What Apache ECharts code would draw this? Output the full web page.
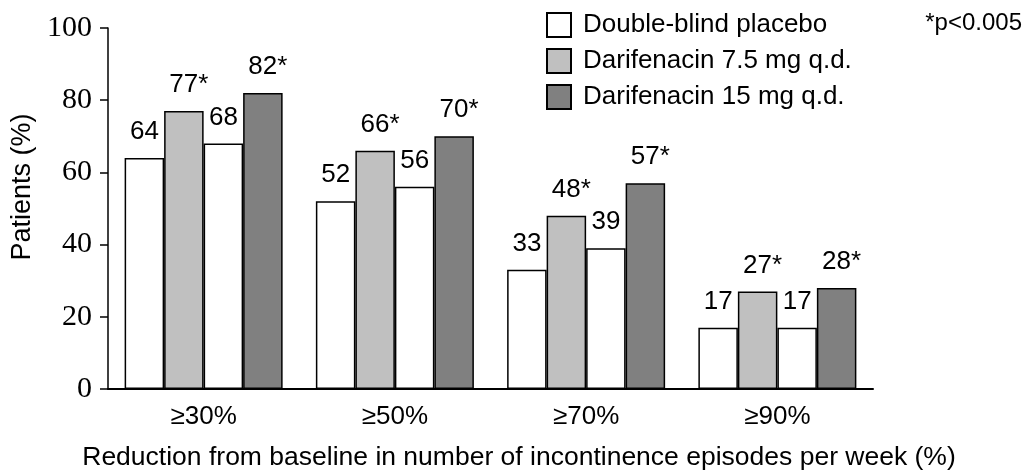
<!DOCTYPE html>
<html>
<head>
<meta charset="utf-8">
<script src="https://cdn.jsdelivr.net/npm/echarts@6/dist/echarts.min.js"></script>
<style>
html,body{margin:0;padding:0;background:#fff;}
#chart{width:1029px;height:470px;}
</style>
</head>
<body>
<div id="chart"></div>
<script>
const categories = ['≥30%', '≥50%', '≥70%', '≥90%'];
const placeboA = [64, 52, 33, 17];
const dari75 = [77, 66, 48, 27];
const placeboB = [68, 56, 39, 17];
const dari15 = [82, 70, 57, 28];
const yTicks = [0, 20, 40, 60, 80, 100];
const legendNames = ['Double-blind placebo', 'Darifenacin 7.5 mg q.d.', 'Darifenacin 15 mg q.d.'];
const sigNote = '*p<0.005';
const xTitle = 'Reduction from baseline in number of incontinence episodes per week (%)';
const yTitle = 'Patients (%)';

const SANS = '"Liberation Sans", Arial, sans-serif';
const SERIF = '"Liberation Serif", "Times New Roman", serif';

function barSeries(name, data, color, star) {
  return {
    name: name,
    type: 'bar',
    data: data,
    barWidth: 39.5,
    barGap: '0%',
    itemStyle: { color: color, borderColor: '#000', borderWidth: 1.5 },
    label: {
      show: true,
      position: 'top',
      distance: 13,
      offset: star ? [5, 0] : [0, 0],
      color: '#000',
      fontFamily: SANS,
      fontSize: 26,
      formatter: p => p.value + (star ? '*' : '')
    },
    emphasis: { disabled: true }
  };
}

const chart = echarts.init(document.getElementById('chart'), null, { renderer: 'canvas' });
chart.setOption({
  animation: false,
  backgroundColor: '#fff',
  grid: { left: 108, right: 156, top: 28, bottom: 81 },
  legend: {
    data: legendNames,
    orient: 'vertical',
    left: 541,
    top: 7,
    itemWidth: 24,
    itemHeight: 24,
    itemGap: 10,
    icon: 'rect',
    selectedMode: false,
    textStyle: { fontFamily: SANS, fontSize: 26, color: '#000', padding: [0, 0, 0, 7] }
  },
  xAxis: {
    type: 'category',
    data: categories,
    axisLine: { lineStyle: { color: '#000', width: 2 } },
    axisTick: { show: false },
    axisLabel: { color: '#000', fontFamily: SANS, fontSize: 26, margin: 15 }
  },
  yAxis: {
    type: 'value',
    min: yTicks[0],
    max: yTicks[yTicks.length - 1],
    interval: 20,
    axisLine: { show: true, lineStyle: { color: '#000', width: 1.5 } },
    axisTick: { show: true, length: 8, lineStyle: { color: '#000', width: 1.5 } },
    splitLine: { show: false },
    axisLabel: { color: '#000', fontFamily: SERIF, fontSize: 30, margin: 16 }
  },
  graphic: [
    {
      type: 'text', x: 1022, y: 23,
      style: { text: sigNote, fill: '#000', font: '24px ' + SANS, textAlign: 'right', textVerticalAlign: 'middle' }
    },
    {
      type: 'text', x: 519, y: 458,
      style: { text: xTitle, fill: '#000', font: '26.5px ' + SANS, textAlign: 'center', textVerticalAlign: 'middle' }
    },
    {
      type: 'text', x: 23, y: 187, rotation: Math.PI / 2,
      style: { text: yTitle, fill: '#000', font: '27px ' + SANS, textAlign: 'center', textVerticalAlign: 'middle' }
    }
  ],
  series: [
    barSeries(legendNames[0], placeboA, '#ffffff', false),
    barSeries(legendNames[1], dari75, '#c0c0c0', true),
    barSeries(legendNames[0], placeboB, '#ffffff', false),
    barSeries(legendNames[2], dari15, '#808080', true)
  ]
});
</script>
</body>
</html>
